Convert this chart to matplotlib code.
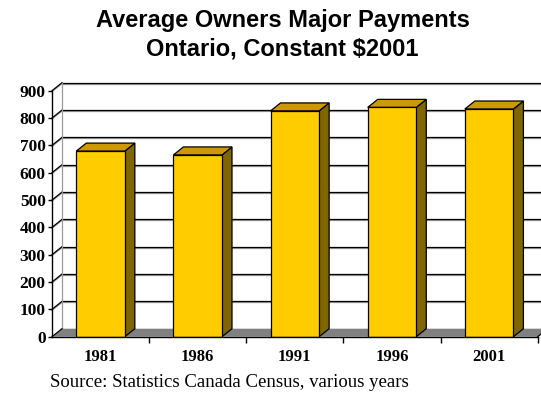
import matplotlib
matplotlib.use("Agg")
import matplotlib.pyplot as plt
from matplotlib.patches import Polygon
from matplotlib import transforms

# ---- data ----
years = ["1981", "1986", "1991", "1996", "2001"]
payments = [679, 665, 826, 839, 833]
y_ticks = [0, 100, 200, 300, 400, 500, 600, 700, 800, 900]
title_line1 = "Average Owners Major Payments"
title_line2 = "Ontario, Constant $2001"
source_note = "Source: Statistics Canada Census, various years"

# ---- layout ----
W, H = 541, 393
fig = plt.figure(figsize=(W / 100, H / 100), dpi=100)
fig.patch.set_facecolor("white")

x_left, x_right = 52.0, 537.7
y_zero, y_top = 336.7, 90.7
ax = fig.add_axes([x_left / W, (H - y_zero) / H, (x_right - x_left) / W, (y_zero - y_top) / H])
n = len(years)
ax.set_xlim(-0.5, n - 0.5)
ax.set_ylim(y_ticks[0], y_ticks[-1])
ax.set_facecolor("none")

# depth offset (pixels) converted to data units
dx_px, dy_px = 10.0, 8.0
dx = dx_px * n / (x_right - x_left)
dy = dy_px * (y_ticks[-1] - y_ticks[0]) / (y_zero - y_top)

x0, x1 = -0.5, n - 0.5
shadow = transforms.offset_copy(ax.transData, fig=fig, x=0, y=-1, units="dots")

# back wall gridlines + left wall slants
for v in y_ticks[1:]:
    ax.plot([x0 + dx, x1 + dx + 0.2], [v + dy, v + dy], color="#9a9a9a", lw=0.9,
            transform=shadow, clip_on=False, zorder=1)
    ax.plot([x0 + dx, x1 + dx + 0.2], [v + dy, v + dy], color="black", lw=0.9,
            clip_on=False, zorder=1.1)
    ax.plot([x0, x0 + dx], [v, v + dy], color="#9a9a9a", lw=0.9,
            transform=shadow, clip_on=False, zorder=1)
    ax.plot([x0, x0 + dx], [v, v + dy], color="black", lw=0.9, clip_on=False, zorder=1.1)
ax.plot([x0 + dx, x0 + dx], [dy, y_ticks[-1] + dy], color="#9a9a9a", lw=0.9,
        clip_on=False, zorder=1.1)

# floor
floor = Polygon([(x0, 0), (x1, 0), (x1 + dx, dy), (x0 + dx, dy)], closed=True,
                facecolor="#808080", edgecolor="none", clip_on=False, zorder=1.5)
ax.add_patch(floor)
ax.plot([x0, x0 + dx], [0, dy], color="black", lw=0.9, clip_on=False, zorder=1.6)
ax.plot([x1, x1 + dx], [0, dy], color="black", lw=0.9, clip_on=False, zorder=1.6)

# bars
bw = 0.5
for i, v in enumerate(payments):
    a, b = i - bw / 2, i + bw / 2
    side = Polygon([(b, 0), (b + dx, dy), (b + dx, v + dy), (b, v)], closed=True,
                   facecolor="#806600", edgecolor="black", lw=0.9, clip_on=False, zorder=3)
    top = Polygon([(a, v), (a + dx, v + dy), (b + dx, v + dy), (b, v)], closed=True,
                  facecolor="#CC9900", edgecolor="black", lw=0.9, clip_on=False, zorder=3)
    ax.add_patch(side)
    ax.add_patch(top)
    ax.bar(i, v, width=bw, color="#FFCC00", edgecolor="black", lw=0.9, zorder=4)

# axes styling
for s in ("top", "right"):
    ax.spines[s].set_visible(False)
for s in ("left", "bottom"):
    ax.spines[s].set_color("black")
    ax.spines[s].set_linewidth(1.0)
    ax.spines[s].set_zorder(5)

ax.set_yticks(y_ticks)
ax.set_yticklabels([str(t) for t in y_ticks], fontfamily="Liberation Serif",
                   fontweight="bold", fontsize=12.5)
ax.tick_params(axis="y", direction="out", length=3, width=1, pad=1.5, colors="black")

ax.set_xticks(range(n))
ax.set_xticklabels(years, fontfamily="Liberation Serif", fontweight="bold", fontsize=12)
ax.tick_params(axis="x", which="major", length=0, pad=9)
ax.set_xticks([i + 0.5 for i in range(n)], minor=True)
ax.tick_params(axis="x", which="minor", direction="out", length=4, width=1)

# titles and note
fig.text(282.5 / W, 1 - 27.5 / H, title_line1, ha="center", va="baseline",
         fontfamily="Liberation Sans", fontweight="bold", fontsize=17)
fig.text(282.5 / W, 1 - 55.5 / H, title_line2, ha="center", va="baseline",
         fontfamily="Liberation Sans", fontweight="bold", fontsize=17)
fig.text(50 / W, 1 - 387 / H, source_note, ha="left", va="baseline",
         fontfamily="Liberation Serif", fontsize=13.5)

fig.savefig("out.png", dpi=100)
